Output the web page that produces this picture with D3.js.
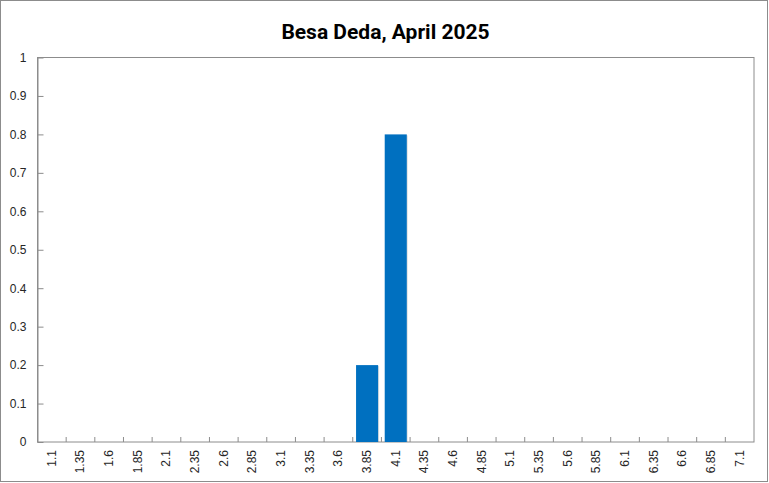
<!DOCTYPE html>
<html><head><meta charset="utf-8">
<script src="https://cdn.jsdelivr.net/npm/d3@7"></script>
<style>body{margin:0;background:#fff}svg{display:block}</style>
</head><body>
<script>
const title = "Besa Deda, April 2025";
const categories = ["1.1","1.35","1.6","1.85","2.1","2.35","2.6","2.85","3.1","3.35","3.6","3.85","4.1","4.35","4.6","4.85","5.1","5.35","5.6","5.85","6.1","6.35","6.6","6.85","7.1"];
const values = [0,0,0,0,0,0,0,0,0,0,0,0.2,0.8,0,0,0,0,0,0,0,0,0,0,0,0];
const yTicks = [0,0.1,0.2,0.3,0.4,0.5,0.6,0.7,0.8,0.9,1];

const W = 769, H = 483;
const m = {left:37.5, right:754, top:57.5, bottom:442};
const svg = d3.select("body").append("svg").attr("width",W).attr("height",H);
svg.append("rect").attr("x",0.5).attr("y",0.5).attr("width",W-2).attr("height",H-2)
  .attr("fill","#fff").attr("stroke","#8c8c8c");

svg.append("text").attr("x",385.5).attr("y",39).attr("text-anchor","middle")
  .attr("font-family","Roboto, 'Open Sans', sans-serif").attr("font-weight","bold")
  .attr("font-size",21).attr("fill","#000").text(title);

const x = d3.scaleBand().domain(categories).range([m.left,m.right]).paddingInner(0.23).paddingOuter(0.115);
const xb = d3.scaleBand().domain(categories).range([m.left,m.right]);
const y = d3.scaleLinear().domain([0,1]).range([m.bottom,m.top]);

// plot frame
svg.append("rect").attr("x",m.left).attr("y",m.top).attr("width",m.right-m.left).attr("height",m.bottom-m.top)
  .attr("fill","none").attr("stroke","#8c8c8c");

// bars
const data = categories.map((c,i)=>({c,v:values[i]})).filter(d=>d.v>0);
svg.append("g").selectAll("rect.shadow").data(data).join("rect")
  .attr("x",d=>x(d.c)+1).attr("y",d=>y(d.v)+1).attr("width",x.bandwidth()).attr("height",d=>y(0)-y(d.v)-1)
  .attr("fill","#000").attr("opacity",0.12);
svg.append("g").selectAll("rect.bar").data(data).join("rect")
  .attr("x",d=>x(d.c)).attr("y",d=>y(d.v)).attr("width",x.bandwidth()).attr("height",d=>y(0)-y(d.v))
  .attr("fill","#0070C0");

// y axis
const ya = svg.append("g").attr("transform",`translate(${m.left},0)`)
  .call(d3.axisLeft(y).tickValues(yTicks).tickFormat(d=>String(+d.toFixed(1))).tickSizeInner(-6).tickSizeOuter(0).tickPadding(11));
ya.select(".domain").attr("stroke","#8c8c8c");
ya.selectAll(".tick line").attr("stroke","#8c8c8c");
ya.selectAll("text").attr("font-family","'Liberation Sans', Arial, sans-serif").attr("font-size",12).attr("fill","#262626");

// x axis: ticks at category boundaries
const bounds = categories.slice(1).map(c=>xb(c));
svg.append("g").selectAll("line").data(bounds).join("line")
  .attr("x1",d=>d).attr("x2",d=>d).attr("y1",m.bottom-5).attr("y2",m.bottom).attr("stroke","#8c8c8c");
svg.append("g").selectAll("text").data(categories).join("text")
  .attr("transform",c=>`translate(${xb(c)+xb.bandwidth()/2+4},${450}) rotate(-90)`)
  .attr("text-anchor","end")
  .attr("font-family","'Liberation Sans', Arial, sans-serif").attr("font-size",12).attr("fill","#262626")
  .text(c=>c);
</script>
</body></html>
